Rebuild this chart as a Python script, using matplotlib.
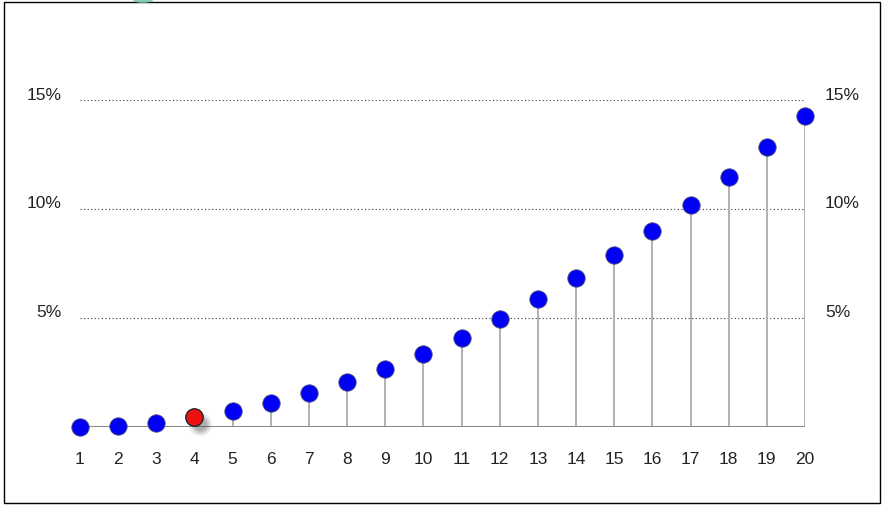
import matplotlib

matplotlib.use("Agg")
import matplotlib.pyplot as plt
from matplotlib.patches import Rectangle, Ellipse

# data (percent)
periods = list(range(1, 21))
values = [0.0, 0.05, 0.2, 0.45, 0.75, 1.1, 1.55, 2.05, 2.65, 3.35,
          4.1, 4.95, 5.85, 6.85, 7.9, 9.0, 10.2, 11.45, 12.85, 14.25]
highlight = 4
y_ticks = [5, 10, 15]
y_tick_labels = ["5%", "10%", "15%"]

plt.rcParams["font.family"] = ["Liberation Sans", "DejaVu Sans"]

W, H = 884, 508
fig = plt.figure(figsize=(W / 100, H / 100), dpi=100)
fig.patch.set_facecolor("white")

# outer border
fig.add_artist(Rectangle((4 / W, 1 - 503 / H), 876 / W, 501 / H,
                         transform=fig.transFigure, fill=False,
                         edgecolor="black", linewidth=1.0))
# small teal blob peeking in at the top edge
fig.add_artist(Ellipse((143 / W, 1.0), 20 / W, 6 / H, transform=fig.transFigure,
                       facecolor="#6cc4a4", edgecolor="none", alpha=0.8))

x0, x1 = 80, 805      # pixel positions of period 1 and 20
y0, y15 = 427, 100    # pixel positions of 0% and 15%
px_x = (x1 - x0) / 19   # pixels per period
px_y = (y0 - y15) / 15  # pixels per percent
ax = fig.add_axes([x0 / W, 1 - y0 / H, (x1 - x0) / W, (y0 - y15) / H])
ax.set_xlim(1, 20)
ax.set_ylim(0, 15)
ax.set_axis_off()

for t in y_ticks:
    ax.axhline(t, color="#333333", linestyle=(0, (1, 2.2)), linewidth=0.8,
               xmax=0.997, zorder=1)

for x, v in zip(periods, values):
    ax.plot([x, x], [0, v], color="#b0b0b0", linewidth=1.4, zorder=2,
            solid_capstyle="butt")

ax.axhline(0, color="#8a8a8a", linewidth=2.2, zorder=3)

# blurred shadow for the highlighted point
hx, hv = periods[highlight - 1], values[highlight - 1]
for s, a in [(17, 0.06), (15, 0.08), (13, 0.10), (11, 0.12), (9, 0.14)]:
    ax.plot(hx + 6 / px_x, hv - 7 / px_y, "o", color="#404040", alpha=a,
            markersize=s, markeredgewidth=0, zorder=3.5, clip_on=False)

for x, v in zip(periods, values):
    red = x == highlight
    ax.plot(x, v, "o", markersize=12.5,
            markerfacecolor="#ee1111" if red else "#0000f5",
            markeredgecolor="#222222" if red else "#4a4a80",
            markeredgewidth=1.0 if red else 0.6, zorder=4, clip_on=False)

for x in periods:
    ax.text(x, -(460 - y0) / px_y, str(x), ha="center", va="center",
            fontsize=12.5, color="#222222", clip_on=False)

for t, lab in zip(y_ticks, y_tick_labels):
    ax.text(1 - (x0 - 62) / px_x, t + 5 / px_y, lab, ha="right", va="center",
            fontsize=12.5, color="#222222", clip_on=False)
    ax.text(20 + (825 - x1) / px_x, t + 5 / px_y, lab, ha="left", va="center",
            fontsize=12.5, color="#222222", clip_on=False)

fig.savefig("out.png", dpi=100)
